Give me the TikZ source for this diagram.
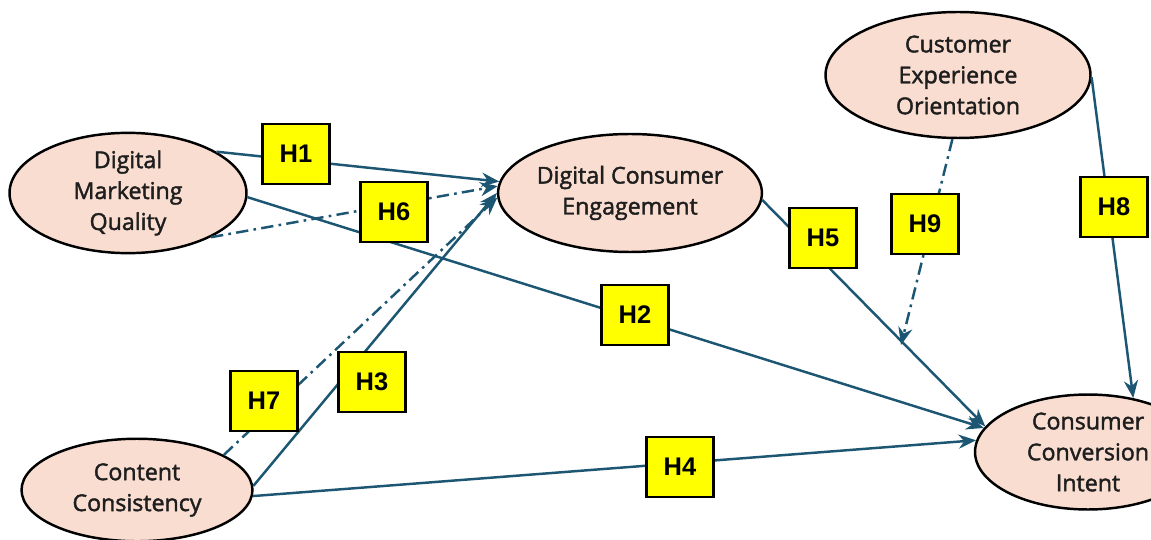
\documentclass[tikz,border=0pt]{standalone}
\usepackage{fontspec}
\setmainfont{Open Sans}
\newfontfamily\constructfont{Open Sans}[FakeBold=1.8]
\newfontfamily\boxfont{Liberation Sans}
\usepackage{tikz}
\usetikzlibrary{arrows.meta,shapes.geometric}
\definecolor{peach}{RGB}{249,221,209}
\definecolor{pathblue}{RGB}{28,86,114}
\definecolor{hypyellow}{RGB}{255,255,0}
\definecolor{textgrey}{RGB}{30,30,30}

\tikzset{
  construct/.style={ellipse,draw=black,line width=1.4pt,fill=peach,inner sep=0pt,align=center,text=textgrey,font=\constructfont\fontsize{13.2}{17.6}\selectfont},
  hyp/.style={rectangle,draw=black,line width=1.2pt,fill=hypyellow,minimum width=1.34cm,minimum height=1.2cm,inner sep=0pt,font=\boxfont\bfseries\fontsize{14.5}{16}\selectfont},
  path/.style={draw=pathblue,line width=1.4pt,-{Stealth[length=10pt,width=8pt]}},
  modpath/.style={path,dash pattern=on 7pt off 3pt on 1.5pt off 3pt}
}

\begin{document}
\begin{tikzpicture}[x=0.02cm,y=-0.02cm]
\useasboundingbox[fill=white] (0,0) rectangle (1151,540);

\node at (128,193)[construct,minimum width=4.74cm,minimum height=2.38cm](dmq){Digital\\Marketing\\Quality};
\node at (630,193)[construct,minimum width=5.0cm,minimum height=2.36cm](dce){Digital Consumer\\Engagement};
\node at (958,75)[construct,minimum width=5.3cm,minimum height=2.52cm](ceo){Customer\\Experience\\Orientation};
\node at (137,490)[construct,minimum width=4.62cm,minimum height=2.05cm](cc){Content\\Consistency};
\node at (1088,452)[construct,minimum width=4.52cm,minimum height=2.3cm](cci){Consumer\\Conversion\\Intent};
\coordinate (h9end) at (901,345);

\draw[path] (dmq.25) -- (dce.175);
\draw[modpath] (dmq.-28) -- (dce.177);
\draw[path] (dmq.-2) -- (cci.167);
\draw[path] (cc.2) -- (dce.180);
\draw[modpath] (cc.22) -- (dce.182);
\draw[path] (cc.-3) -- (cci.174);
\draw[path] (dce.-3) -- (cci.166);
\draw[modpath] (ceo.-95) -- (h9end);
\draw[path] (ceo.-1) -- (cci.50);

\node at (296,154)[hyp](h1){H1};
\node at (394,212)[hyp](h6){H6};
\node at (635,315)[hyp](h2){H2};
\node at (372,382)[hyp](h3){H3};
\node at (264,401)[hyp](h7){H7};
\node at (680,467)[hyp](h4){H4};
\node at (823,238)[hyp](h5){H5};
\node at (925,224)[hyp](h9){H9};
\node at (1114,207)[hyp](h8){H8};
\end{tikzpicture}
\end{document}
